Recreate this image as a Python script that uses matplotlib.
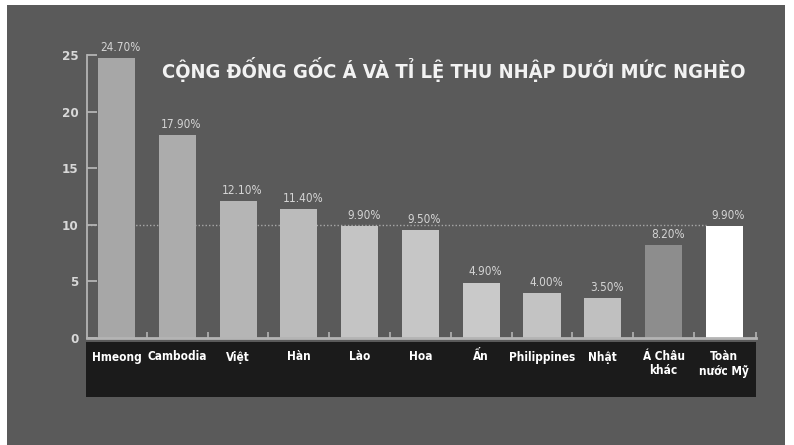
import matplotlib
matplotlib.use("Agg")
import matplotlib.pyplot as plt
from matplotlib.patches import Rectangle

# Dữ liệu
nhom = ["Hmeong", "Cambodia", "Việt", "Hàn", "Lào", "Hoa", "Ấn", "Philippines",
        "Nhật", "Á Châu\nkhác", "Toàn\nnước Mỹ"]
ti_le = [24.7, 17.9, 12.1, 11.4, 9.9, 9.5, 4.9, 4.0, 3.5, 8.2, 9.9]
nhan_gia_tri = ["24.70%", "17.90%", "12.10%", "11.40%", "9.90%", "9.50%",
                "4.90%", "4.00%", "3.50%", "8.20%", "9.90%"]
mau_cot = ["#a7a7a7", "#acacac", "#b5b5b5", "#bbbbbb", "#c4c4c4", "#c6c6c6",
           "#c9c9c9", "#c3c3c3", "#c0c0c0", "#8d8d8d", "#ffffff"]
y_ticks = [0, 5, 10, 15, 20, 25]
tieu_de = "CỘNG ĐỐNG GỐC Á VÀ TỈ LỆ THU NHẬP DƯỚI MỨC NGHÈO"

FONT = ["DejaVu Sans Condensed", "Liberation Sans Narrow", "DejaVu Sans"]
NEN = "#5a5a5a"
TRUC = "#b4b4b4"

W, H = 794, 445
fig = plt.figure(figsize=(W / 100, H / 100), dpi=100)
fig.patch.set_facecolor("white")

# nền xám của khung
fig.add_artist(Rectangle((7 / W, 0), (785 - 7) / W, (H - 5) / H,
                         transform=fig.transFigure, facecolor=NEN,
                         edgecolor="none", zorder=-2))
# dải đen chứa nhãn
fig.add_artist(Rectangle((86 / W, 48 / H), (756 - 86) / W, (103 - 48) / H,
                         transform=fig.transFigure, facecolor="#1b1b1b",
                         edgecolor="none", zorder=-1))

ax = fig.add_axes([87 / W, 107 / H, 669 / W, 283 / H])
ax.set_facecolor("none")

x = list(range(len(nhom)))
ax.bar(x, ti_le, width=0.61, color=mau_cot, edgecolor="none", zorder=2)
ax.set_xlim(-0.485, 10.52)
ax.set_ylim(0, 25)

# đường chấm ở mức 10
ax.hlines(10, -0.485, 10 - 0.305, colors="#a8a8a8", linestyles=(0, (1, 1.5)),
          linewidth=1, zorder=1)

for xi, v, s in zip(x, ti_le, nhan_gia_tri):
    ax.annotate(s, (xi, v), xytext=(3, 3), textcoords="offset points",
                ha="center", va="bottom", fontsize=8.5, color="#d4d4d4",
                family=FONT, fontstretch="condensed", annotation_clip=False)

for sp in ["top", "right"]:
    ax.spines[sp].set_visible(False)
ax.spines["left"].set_color(TRUC)
ax.spines["left"].set_linewidth(1.3)
ax.spines["bottom"].set_color(TRUC)
ax.spines["bottom"].set_linewidth(2)

ax.set_yticks(y_ticks)
ax.set_yticklabels([str(t) for t in y_ticks], fontsize=9.5, fontweight="bold",
                   color="#d8d8d8", family=FONT, fontstretch="condensed")
ax.tick_params(axis="y", direction="in", length=7, width=1.3, color=TRUC, pad=6)

ax.set_xticks(x)
ax.set_xticklabels(nhom, fontsize=8.5, fontweight="bold", color="white",
                   family=FONT, fontstretch="condensed", linespacing=1.1)
ax.tick_params(axis="x", length=0, pad=9)

# vạch nhỏ giữa các cột
ax.set_xticks([i + 0.5 for i in range(10)] + [10.52], minor=True)
ax.tick_params(axis="x", which="minor", direction="in", length=4, width=1.2,
               color=TRUC)

tt = fig.text(454 / W, (H - 69) / H, tieu_de, ha="center", va="center",
              fontsize=19, fontweight="bold", color="#f2f2f2", family=FONT,
              fontstretch="condensed")
# co chữ tiêu đề cho vừa khoảng 583 px như ảnh gốc
r = fig.canvas.get_renderer()
w = tt.get_window_extent(r).width
tt.set_fontsize(19 * 583 / w)

fig.savefig("out.png", dpi=100, facecolor=fig.get_facecolor())
